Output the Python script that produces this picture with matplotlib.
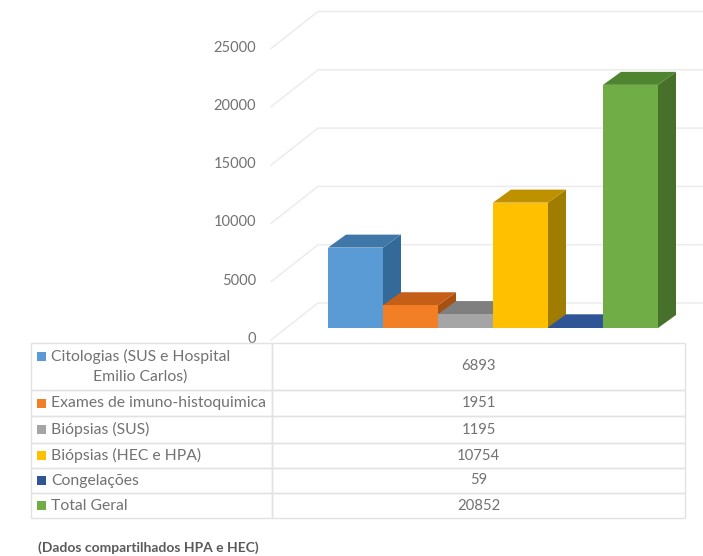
import matplotlib.pyplot as plt
from matplotlib.patches import Rectangle

W, H = 703, 556

categories = [
    "Citologias (SUS e Hospital\nEmilio Carlos)",
    "Exames de imuno-histoquimica",
    "Biópsias (SUS)",
    "Biópsias (HEC e HPA)",
    "Congelações",
    "Total Geral",
]
values = [6893, 1951, 1195, 10754, 59, 20852]
ticks = [0, 5000, 10000, 15000, 20000, 25000]

front_colors = ["#5b9bd5", "#f27f26", "#a5a5a5", "#ffc000", "#2f5597", "#70ad47"]
top_colors = ["#3f77a8", "#c55f18", "#7f7f7f", "#bf9000", "#2f5597", "#4f8530"]
side_colors = ["#336a99", "#a8500f", "#6e6e6e", "#a07c00", "#254478", "#47702a"]

GRID = "#ececec"
LINE = "#e2e2e2"
TEXT = "#727272"

plt.rcParams["font.family"] = ["Lato", "DejaVu Sans"]

# scale of the bar plane, in pixels
CAT_PX = 55.0
VAL_PX = 58.3 / 5000
X0, Y0 = 328, 328


def px_x(n):
    return n / CAT_PX


def px_y(n):
    return n / VAL_PX


fig = plt.figure(figsize=(W / 100, H / 100), dpi=100, facecolor="white")
ax = fig.add_axes([X0 / W, (H - Y0) / H, (W - X0) / W, 25000 * VAL_PX / H])
ax.set_xlim(0, (W - X0) / CAT_PX)
ax.set_ylim(0, 25000)
ax.axis("off")

# walls: back plane is 25 px above and 10 px left of the bars' front
back_x, back_y = px_x(-10), px_y(25)
floor_x, floor_y = px_x(-57), px_y(-12)
for tick in ticks:
    ax.plot(
        [floor_x, back_x, ax.get_xlim()[1]],
        [tick + floor_y, tick + back_y, tick + back_y],
        color=GRID, lw=1.1, clip_on=False, zorder=1,
    )
    ax.text(px_x(-72), tick - px_y(11), str(tick), ha="right", va="center",
            fontsize=10.5, color=TEXT, clip_on=False)

# 3D bars
dx, dy = px_x(18), px_y(13)
for i, value in enumerate(values):
    left, right = i, i + 1
    ax.fill([right, right + dx, right + dx, right], [0, dy, value + dy, value],
            color=side_colors[i], lw=0, zorder=2 + i)
    ax.fill([left, left + dx, right + dx, right], [value, value + dy, value + dy, value],
            color=top_colors[i], lw=0, zorder=2 + i)
    ax.bar(left, value, width=1, align="edge", color=front_colors[i], lw=0, zorder=2 + i)

# table below the chart
over = fig.add_axes([0, 0, 1, 1], facecolor="none")
over.set_xlim(0, 1)
over.set_ylim(0, 1)
over.axis("off")

row_px = [47, 26, 27, 25, 25, 25]
table_left, table_top, col1, col2 = 31, 343, 241, 413
table = over.table(
    cellText=[[c, str(v)] for c, v in zip(categories, values)],
    colWidths=[col1 / W, col2 / W],
    bbox=[table_left / W, (H - table_top - sum(row_px)) / H, (col1 + col2) / W, sum(row_px) / H],
)
table.auto_set_font_size(False)
for (r, c), cell in table.get_celld().items():
    cell.set_height(row_px[r] / H)
    cell.set_edgecolor(LINE)
    cell.set_linewidth(1)
    cell.set_facecolor("none")
    text = cell.get_text()
    text.set_color(TEXT)
    if c == 0:
        cell.PAD = 20 / col1
        text.set_fontsize(11.3)
        text.set_ha("left")
        text.set_multialignment("center")
        text.set_linespacing(1.5)
    else:
        text.set_fontsize(10.7)
        text.set_ha("center")

# legend keys inside the first column
row_top = table_top
for r, height in enumerate(row_px):
    key_y = row_top + (13 if r == 0 else height / 2)
    over.add_patch(Rectangle((37 / W, (H - key_y - 4.5) / H), 9 / W, 9 / H,
                             color=front_colors[r], lw=0, zorder=5))
    row_top += height

over.text(38 / W, (H - 548) / H, "(Dados compartilhados HPA e HEC)", fontsize=10,
          fontweight="bold", color="#5a5a5a", ha="left", va="center")

fig.savefig("out.png", dpi=100, facecolor="white")
